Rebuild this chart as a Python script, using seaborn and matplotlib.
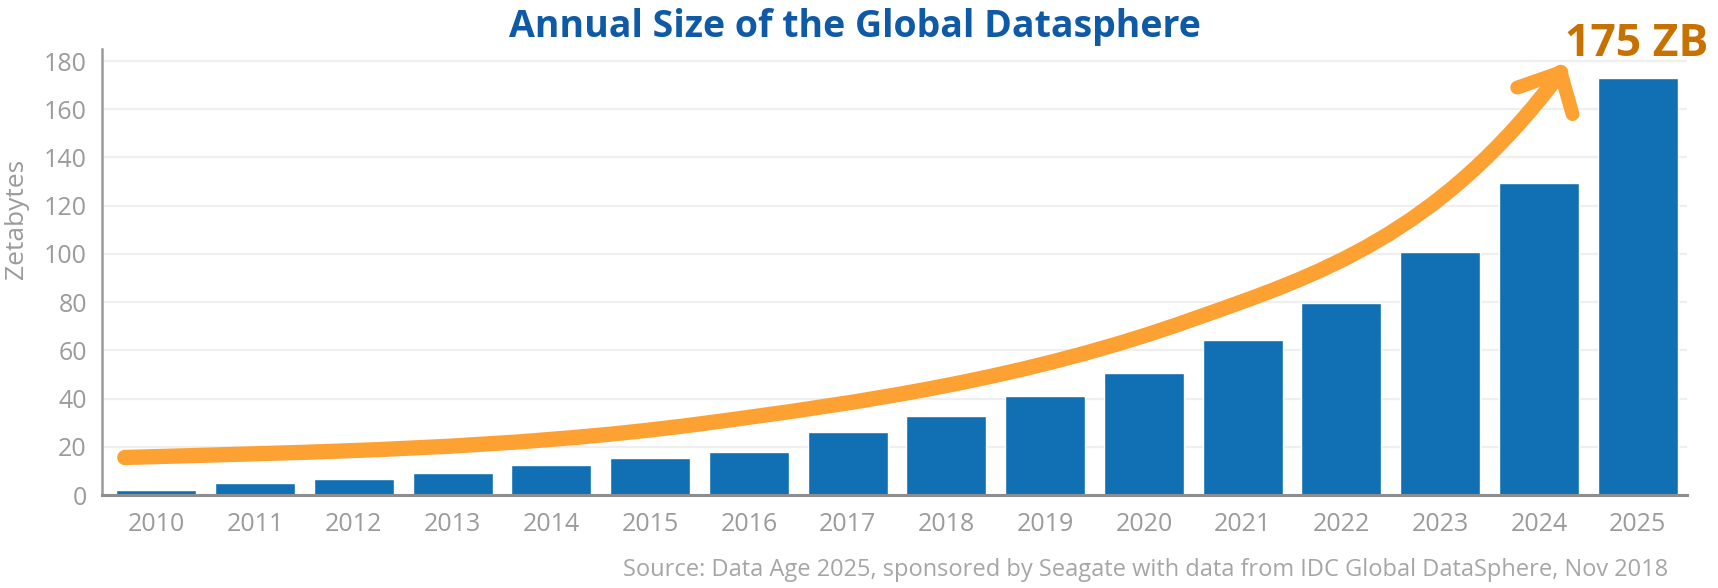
import matplotlib
matplotlib.use("Agg")
import matplotlib.pyplot as plt
import seaborn as sns
from matplotlib.path import Path
from matplotlib.patches import PathPatch

years = ["2010", "2011", "2012", "2013", "2014", "2015", "2016", "2017",
         "2018", "2019", "2020", "2021", "2022", "2023", "2024", "2025"]
zettabytes = [2, 5, 6.5, 9, 12.5, 15.5, 18, 26, 33, 41, 50.5, 64.5, 79.5, 101, 129.5, 173]
y_ticks = [0, 20, 40, 60, 80, 100, 120, 140, 160, 180]

BAR_BLUE = "#1170B3"
ORANGE = "#FEA133"
GREY = "#9B9B9B"

sns.set_style("white")
plt.rcParams["font.family"] = ["Open Sans", "DejaVu Sans"]

fig = plt.figure(figsize=(17.18, 5.88), dpi=100)
ax = fig.add_axes([0.0594, 0.158, 0.9226, 0.7587])

sns.barplot(x=years, y=zettabytes, color=BAR_BLUE, saturation=1, width=0.81, ax=ax, zorder=2)

ax.set_xlim(-0.55, 15.5)
ax.set_ylim(0, 185)
ax.set_yticks(y_ticks)
ax.grid(True, axis="y", color="#EFEFEF", lw=1.6, zorder=0)
ax.set_axisbelow(True)
ax.tick_params(axis="both", length=0, labelsize=18, labelcolor=GREY)
ax.tick_params(axis="y", pad=11)
ax.tick_params(axis="x", pad=12.5)

for side in ["top", "right"]:
    ax.spines[side].set_visible(False)
ax.spines["left"].set_color("#9A9A9A")
ax.spines["left"].set_linewidth(1.8)
ax.spines["bottom"].set_color("#8E8E8E")
ax.spines["bottom"].set_linewidth(2.2)

ax.set_xlabel("")
ax.set_ylabel("")
fig.text(16.5 / 1718, 1 - 219 / 588, "Zetabytes", rotation=90, ha="center", va="center",
         fontsize=19, color=GREY)

# growth arrow: three joined cubic segments, then the two barbs of the head
verts = [(-0.32, 15.6), (1.63, 17.9), (3.57, 19.1), (5.5, 29.5),
         (7.17, 38.5), (8.83, 48.5), (10.5, 73),
         (11.74, 90.9), (12.98, 107.3), (14.22, 175.3)]
codes = [Path.MOVETO] + [Path.CURVE4] * 9
ax.add_patch(PathPatch(Path(verts, codes), fill=False, edgecolor=ORANGE, lw=11,
                       capstyle="round", joinstyle="round", zorder=3))
ax.plot([13.78, 14.22, 14.34], [169, 175.3, 158], color=ORANGE, lw=10,
        solid_capstyle="round", solid_joinstyle="round", zorder=3)

fig.text(855 / 1718, 1 - 27 / 588, "Annual Size of the Global Datasphere", ha="center",
         va="center", fontsize=27, fontweight="bold", color="#0E5AA7")
fig.text(1637 / 1718, 1 - 45 / 588, "175 ZB", ha="center", va="center",
         fontsize=32, fontweight="bold", color="#C77200")
fig.text(1668 / 1718, 1 - 570 / 588,
         "Source: Data Age 2025, sponsored by Seagate with data from IDC Global DataSphere, Nov 2018",
         ha="right", va="center", fontsize=17, color="#A6A6A6")

fig.savefig("out.png", dpi=100)
plt.close(fig)
